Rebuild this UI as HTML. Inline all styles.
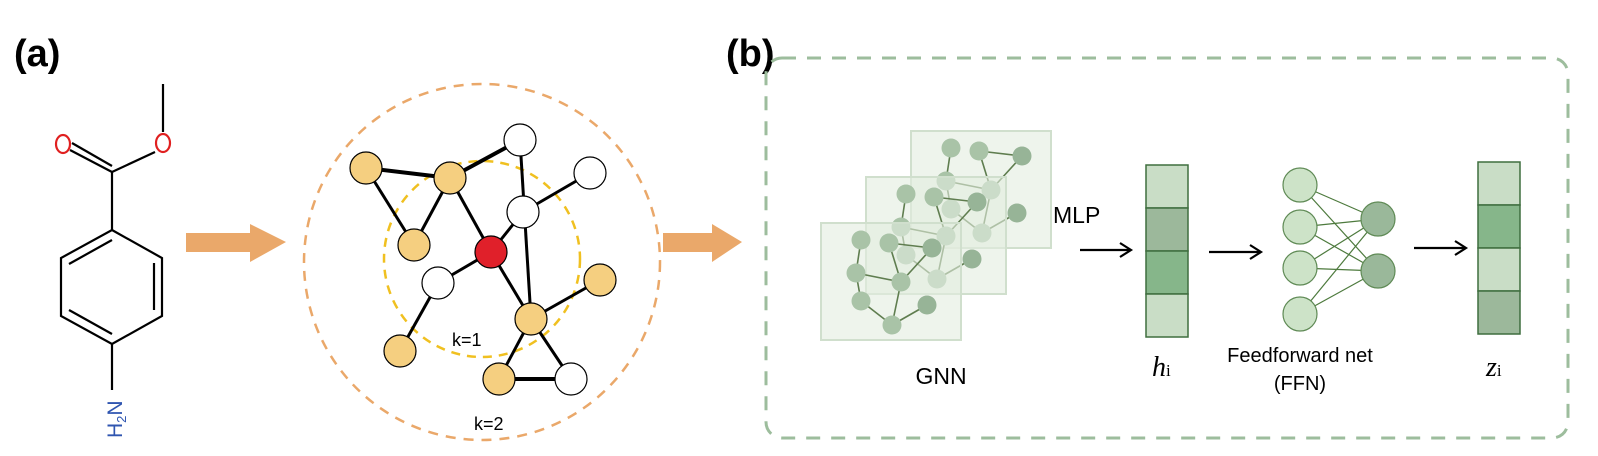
<!DOCTYPE html>
<html><head><style>
body{margin:0;background:#fff;}
svg{display:block;font-family:"Liberation Sans",sans-serif;}
</style></head><body>
<svg width="1598" height="456" viewBox="0 0 1598 456" xmlns="http://www.w3.org/2000/svg">
<defs>
<g id="g">
<rect x="0" y="0" width="140" height="117" fill="#e2ece0" fill-opacity="0.6" stroke="#d0dfcd" stroke-width="2"/>
<g stroke="#5f7d4f" stroke-width="1.6">
<line x1="40" y1="17" x2="35" y2="50"/><line x1="35" y1="50" x2="80" y2="59"/><line x1="35" y1="50" x2="40" y2="78"/>
<line x1="40" y1="78" x2="71" y2="102"/><line x1="71" y1="102" x2="80" y2="59"/><line x1="71" y1="102" x2="106" y2="82"/>
<line x1="68" y1="20" x2="80" y2="59"/><line x1="68" y1="20" x2="111" y2="25"/><line x1="111" y1="25" x2="80" y2="59"/>
</g>
<g fill="#a9c3a7">
<circle cx="40" cy="17" r="9.5"/><circle cx="35" cy="50" r="9.5"/><circle cx="40" cy="78" r="9.5"/><circle cx="71" cy="102" r="9.5"/>
<circle cx="80" cy="59" r="9.5"/><circle cx="68" cy="20" r="9.5"/>
<circle cx="111" cy="25" r="9.5" fill="#97b497"/><circle cx="106" cy="82" r="9.5" fill="#97b497"/>
</g>
</g>
</defs>
<!-- (a) -->
<text x="14" y="66" font-size="38" font-weight="bold">(a)</text>
<g stroke="#000" stroke-width="2.2" fill="none">
<line x1="163" y1="84" x2="163" y2="132"/>
<line x1="155" y1="152" x2="112" y2="172"/>
<line x1="112" y1="172" x2="70" y2="150"/>
<line x1="112" y1="166" x2="72" y2="143"/>
<line x1="112" y1="172" x2="112" y2="230"/>
<polygon points="112,230 162,258 162,316 112,344 61,316 61,258"/>
<line x1="112" y1="240" x2="69" y2="264"/>
<line x1="154" y1="263" x2="154" y2="310"/>
<line x1="112" y1="334" x2="69" y2="310"/>
<line x1="112" y1="344" x2="112" y2="390"/>
</g>
<ellipse cx="163" cy="143" rx="7" ry="9" fill="none" stroke="#e02020" stroke-width="2.2"/>
<ellipse cx="63" cy="144" rx="7" ry="9" fill="none" stroke="#e02020" stroke-width="2.2"/>
<text transform="translate(122,438) rotate(-90)" font-size="21" fill="#2f55b0">H<tspan font-size="13" dy="4">2</tspan><tspan dy="-4">N</tspan></text>
<!-- arrows -->
<polygon points="186,233 250,233 250,224 286,242 250,262 250,252 186,252" fill="#eaa86a"/>
<polygon points="663,233 712,233 712,224 742,242 712,262 712,252 663,252" fill="#eaa86a"/>
<!-- graph -->
<circle cx="482" cy="262" r="178" fill="none" stroke="#eaa86a" stroke-width="2.5" stroke-dasharray="10,8"/>
<circle cx="482" cy="259" r="98" fill="none" stroke="#f0c020" stroke-width="2.5" stroke-dasharray="9,7"/>
<g stroke="#000" stroke-width="3">
<line x1="366" y1="168" x2="450" y2="178" stroke-width="4"/>
<line x1="366" y1="168" x2="414" y2="245"/>
<line x1="450" y1="178" x2="414" y2="245"/>
<line x1="450" y1="178" x2="520" y2="140" stroke-width="4"/>
<line x1="450" y1="178" x2="491" y2="252"/>
<line x1="520" y1="140" x2="531" y2="319"/>
<line x1="523" y1="212" x2="590" y2="173"/>
<line x1="491" y1="252" x2="523" y2="212"/>
<line x1="491" y1="252" x2="438" y2="283"/>
<line x1="438" y1="283" x2="400" y2="351"/>
<line x1="491" y1="252" x2="531" y2="319"/>
<line x1="531" y1="319" x2="600" y2="280"/>
<line x1="531" y1="319" x2="499" y2="379"/>
<line x1="531" y1="319" x2="571" y2="379"/>
<line x1="499" y1="379" x2="571" y2="379" stroke-width="4"/>
</g>
<g stroke="#000" stroke-width="1.2">
<circle cx="366" cy="168" r="16" fill="#f5cf80"/><circle cx="450" cy="178" r="16" fill="#f5cf80"/>
<circle cx="520" cy="140" r="16" fill="#fff"/><circle cx="590" cy="173" r="16" fill="#fff"/>
<circle cx="523" cy="212" r="16" fill="#fff"/><circle cx="414" cy="245" r="16" fill="#f5cf80"/>
<circle cx="491" cy="252" r="16" fill="#e0202a"/><circle cx="438" cy="283" r="16" fill="#fff"/>
<circle cx="600" cy="280" r="16" fill="#f5cf80"/><circle cx="531" cy="319" r="16" fill="#f5cf80"/>
<circle cx="400" cy="351" r="16" fill="#f5cf80"/><circle cx="499" cy="379" r="16" fill="#f5cf80"/>
<circle cx="571" cy="379" r="16" fill="#fff"/>
</g>
<text x="452" y="346" font-size="18">k=1</text>
<text x="474" y="430" font-size="18">k=2</text>
<!-- (b) -->
<text x="726" y="66" font-size="38" font-weight="bold">(b)</text>
<rect x="766" y="58" width="802" height="380" rx="16" fill="none" stroke="#9dbd9d" stroke-width="3" stroke-dasharray="14,11"/>
<use href="#g" x="911" y="131"/>
<use href="#g" x="866" y="177"/>
<use href="#g" x="821" y="223"/>
<text x="941" y="384" font-size="23" text-anchor="middle">GNN</text>
<text x="1053" y="223" font-size="23">MLP</text>
<g stroke="#000" stroke-width="2.2" fill="none">
<line x1="1080" y1="250" x2="1130" y2="250"/><polyline points="1120,243 1131,250 1120,257"/>
<line x1="1209" y1="252" x2="1260" y2="252"/><polyline points="1250,245 1261,252 1250,259"/>
<line x1="1414" y1="248" x2="1465" y2="248"/><polyline points="1455,241 1466,248 1455,255"/>
</g>
<g stroke="#3f6e3f" stroke-width="1.5">
<rect x="1146" y="165" width="42" height="43" fill="#c9ddc6"/>
<rect x="1146" y="208" width="42" height="43" fill="#9cb89b"/>
<rect x="1146" y="251" width="42" height="43" fill="#86b68a"/>
<rect x="1146" y="294" width="42" height="43" fill="#c9ddc6"/>
<rect x="1478" y="162" width="42" height="43" fill="#c9ddc6"/>
<rect x="1478" y="205" width="42" height="43" fill="#86b68a"/>
<rect x="1478" y="248" width="42" height="43" fill="#c9ddc6"/>
<rect x="1478" y="291" width="42" height="43" fill="#9cb89b"/>
</g>
<text x="1152" y="376" font-size="28" font-style="italic" font-family="Liberation Serif,serif">h<tspan font-size="17" font-style="normal">i</tspan></text>
<text x="1486" y="376" font-size="28" font-style="italic" font-family="Liberation Serif,serif">z<tspan font-size="17" font-style="normal">i</tspan></text>
<g stroke="#4d7a3d" stroke-width="1.2">
<line x1="1300" y1="185" x2="1378" y2="219"/><line x1="1300" y1="185" x2="1378" y2="271"/>
<line x1="1300" y1="227" x2="1378" y2="219"/><line x1="1300" y1="227" x2="1378" y2="271"/>
<line x1="1300" y1="268" x2="1378" y2="219"/><line x1="1300" y1="268" x2="1378" y2="271"/>
<line x1="1300" y1="314" x2="1378" y2="219"/><line x1="1300" y1="314" x2="1378" y2="271"/>
</g>
<g stroke="#5f8a55" stroke-width="1.2">
<circle cx="1300" cy="185" r="17" fill="#cde3c8"/><circle cx="1300" cy="227" r="17" fill="#cde3c8"/>
<circle cx="1300" cy="268" r="17" fill="#cde3c8"/><circle cx="1300" cy="314" r="17" fill="#cde3c8"/>
<circle cx="1378" cy="219" r="17" fill="#9ab89a"/><circle cx="1378" cy="271" r="17" fill="#9ab89a"/>
</g>
<text x="1300" y="362" font-size="20" text-anchor="middle">Feedforward net</text>
<text x="1300" y="390" font-size="20" text-anchor="middle">(FFN)</text>
</svg>
</body></html>
